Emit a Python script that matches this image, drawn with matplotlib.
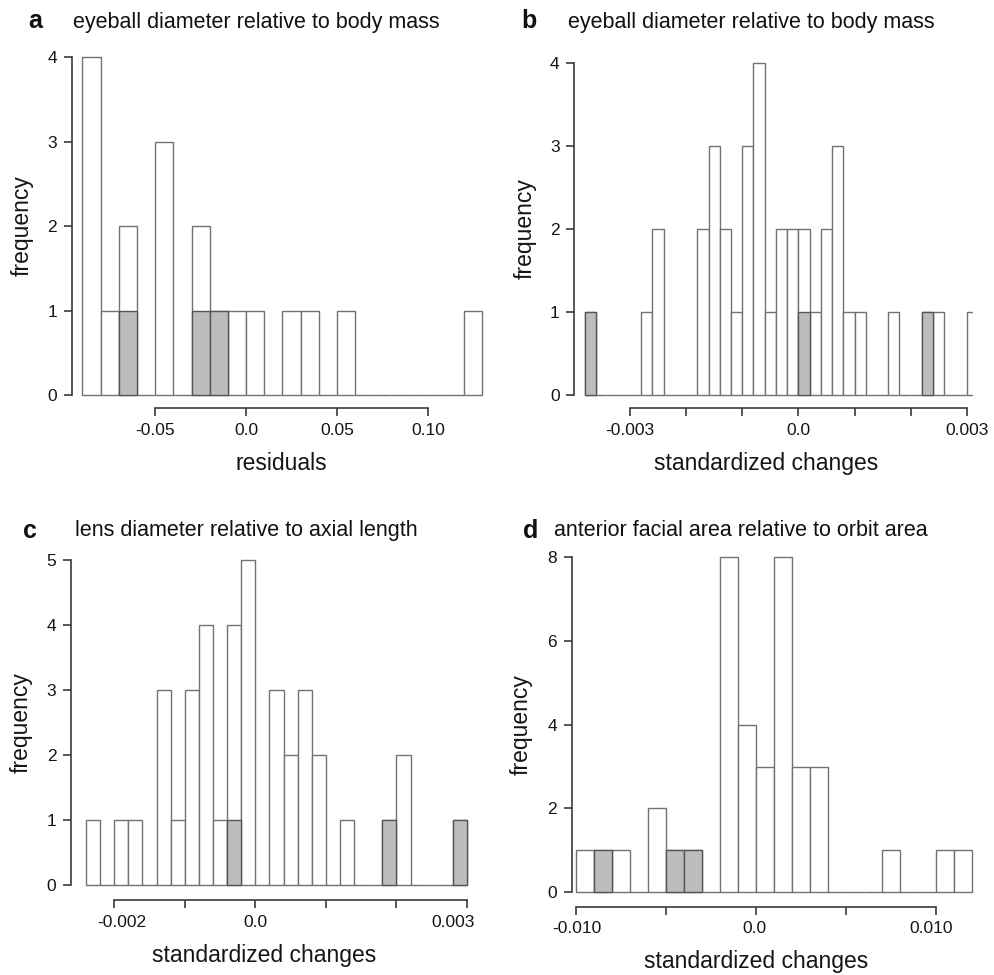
import numpy as np
import matplotlib
matplotlib.use("Agg")
import matplotlib.pyplot as plt
from matplotlib.transforms import ScaledTranslation

plt.rcParams['font.family'] = ['Liberation Sans', 'DejaVu Sans']

W, H = 995, 975

# ---------------- data (histogram counts) ----------------
# a: residuals, eyeball diameter vs body mass
a_start, a_width = -0.09, 0.01
a_counts = [4, 1, 2, 0, 3, 0, 2, 1, 1, 1, 0, 1, 1, 0, 1, 0, 0, 0, 0, 0, 0, 1]
a_gray = [0, 0, 1, 0, 0, 0, 1, 1, 0, 0, 0, 0, 0, 0, 0, 0, 0, 0, 0, 0, 0, 0]

# b: standardized changes, eyeball diameter vs body mass
b_start, b_width = -0.0038, 0.0002
b_counts = [1, 0, 0, 0, 0, 1, 2, 0, 0, 0, 2, 3, 2, 1, 3, 4, 1, 2, 2, 2,
            1, 2, 3, 1, 1, 0, 0, 1, 0, 0, 1, 1, 0, 0, 1]
b_gray = [1, 0, 0, 0, 0, 0, 0, 0, 0, 0, 0, 0, 0, 0, 0, 0, 0, 0, 0, 1,
          0, 0, 0, 0, 0, 0, 0, 0, 0, 0, 1, 0, 0, 0, 0]

# c: standardized changes, lens diameter vs axial length
c_start, c_width = -0.0024, 0.0002
c_counts = [1, 0, 1, 1, 0, 3, 1, 3, 4, 1, 4, 5, 0, 3, 2, 3, 2, 0, 1, 0,
            0, 1, 2, 0, 0, 0, 1]
c_gray = [0, 0, 0, 0, 0, 0, 0, 0, 0, 0, 1, 0, 0, 0, 0, 0, 0, 0, 0, 0,
          0, 1, 0, 0, 0, 0, 1]

# d: standardized changes, anterior facial area vs orbit area
d_start, d_width = -0.010, 0.001
d_counts = [1, 1, 1, 0, 2, 1, 1, 0, 8, 4, 3, 8, 3, 3, 0, 0, 0, 1, 0, 0, 1, 1]
d_gray = [0, 1, 0, 0, 0, 1, 1, 0, 0, 0, 0, 0, 0, 0, 0, 0, 0, 0, 0, 0, 0, 0]

a_xticks = [-0.05, 0.0, 0.05, 0.10]
a_xlabels = ["-0.05", "0.0", "0.05", "0.10"]
b_xticks = [-0.003, -0.002, -0.001, 0.0, 0.001, 0.002, 0.003]
b_xlabels = ["-0.003", "", "", "0.0", "", "", "0.003"]
c_xticks = [-0.002, -0.001, 0.0, 0.001, 0.002, 0.003]
c_xlabels = ["-0.002", "", "0.0", "", "", "0.003"]
d_xticks = [-0.010, -0.005, 0.0, 0.005, 0.010]
d_xlabels = ["-0.010", "", "0.0", "", "0.010"]

EDGE = "#727272"
SPINE = "#3a3a3a"
GRAY = "#bdbdbd"
TXT = "#151515"


def px_axes(fig, left, top, right, bottom):
    return fig.add_axes([left / W, 1 - bottom / H, (right - left) / W, (bottom - top) / H])


def draw_hist(ax, start, width, counts, gray):
    counts = np.array(counts)
    gray = np.array(gray)
    lefts = start + width * np.arange(len(counts))
    ax.bar(lefts, counts, width=width, align="edge", facecolor="white",
           edgecolor=EDGE, linewidth=1.0, zorder=2)
    m = gray > 0
    ax.bar(lefts[m], gray[m], width=width, align="edge", facecolor=GRAY,
           edgecolor="#555555", linewidth=1.0, zorder=3)


def style(ax, xlim, ylim, xticks, xlabels, yticks, shifts=None):
    ax.set_xlim(*xlim)
    ax.set_ylim(*ylim)
    for s in ["top", "right"]:
        ax.spines[s].set_visible(False)
    for s in ["left", "bottom"]:
        ax.spines[s].set_color(SPINE)
        ax.spines[s].set_linewidth(1.2)
    ax.spines["left"].set_bounds(yticks[0], yticks[-1])
    ax.spines["bottom"].set_bounds(xticks[0], xticks[-1])
    ax.set_xticks(xticks)
    ax.set_xticklabels(xlabels)
    ax.set_yticks(yticks)
    ax.set_yticklabels([str(t) for t in yticks])
    ax.tick_params(direction="out", length=6, width=1.2, color=SPINE,
                   labelsize=12.5, labelcolor=TXT)
    ax.tick_params(axis="x", pad=4.5)
    ax.tick_params(axis="y", pad=4.5)
    ax.patch.set_alpha(0)
    # the original figure has a few tick labels nudged sideways
    if shifts:
        fig = ax.figure
        for lab, dx in zip(ax.get_xticklabels(), shifts):
            lab.set_transform(lab.get_transform() +
                              ScaledTranslation(dx / 100, 0, fig.dpi_scale_trans))


def fig_xy(x, y):
    return x / W, 1 - y / H


fig = plt.figure(figsize=(W / 100, H / 100), dpi=100)

# panel a
ax = px_axes(fig, 71.7, 44, 492, 408.3)
draw_hist(ax, a_start, a_width, a_counts, a_gray)
style(ax, (-0.0959, 0.1353), (-0.158, 4.16), a_xticks, a_xlabels, [0, 1, 2, 3, 4])
ax.set_xlabel("residuals", fontsize=16.5, color=TXT)
ax.xaxis.set_label_coords(*fig_xy(281, 452), transform=fig.transFigure)
ax.set_ylabel("frequency", fontsize=16.5, color=TXT)
ax.yaxis.set_label_coords(*fig_xy(34, 226), transform=fig.transFigure)

# panel b
ax = px_axes(fig, 574.3, 50, 973, 408.3)
draw_hist(ax, b_start, b_width, b_counts, b_gray)
style(ax, (-0.003991, 0.003109), (-0.16, 4.16), b_xticks, b_xlabels, [0, 1, 2, 3, 4])
ax.set_xlabel("standardized changes", fontsize=16.5, color=TXT)
ax.xaxis.set_label_coords(*fig_xy(766, 452), transform=fig.transFigure)
ax.set_ylabel("frequency", fontsize=16.5, color=TXT)
ax.yaxis.set_label_coords(*fig_xy(537, 229), transform=fig.transFigure)

# panel c
ax = px_axes(fig, 71, 547, 482, 900)
draw_hist(ax, c_start, c_width, c_counts, c_gray)
style(ax, (-0.002612, 0.003213), (-0.23, 5.2), c_xticks, c_xlabels, [0, 1, 2, 3, 4, 5],
      shifts=[8, 0, 0, 0, 0, -14])
ax.set_xlabel("standardized changes", fontsize=16.5, color=TXT)
ax.xaxis.set_label_coords(*fig_xy(264, 944), transform=fig.transFigure)
ax.set_ylabel("frequency", fontsize=16.5, color=TXT)
ax.yaxis.set_label_coords(*fig_xy(33, 723), transform=fig.transFigure)

# panel d
ax = px_axes(fig, 571.7, 543.7, 974.2, 906.7)
draw_hist(ax, d_start, d_width, d_counts, d_gray)
style(ax, (-0.01022, 0.0121), (-0.344, 8.32), d_xticks, d_xlabels, [0, 2, 4, 6, 8],
      shifts=[1, 0, -2, 0, -5])
ax.set_xlabel("standardized changes", fontsize=16.5, color=TXT)
ax.xaxis.set_label_coords(*fig_xy(756, 950), transform=fig.transFigure)
ax.set_ylabel("frequency", fontsize=16.5, color=TXT)
ax.yaxis.set_label_coords(*fig_xy(533, 725), transform=fig.transFigure)

# panel letters and titles
panels = [
    ("a", 28, 28, "eyeball diameter relative to body mass", 72.7, 28),
    ("b", 521.7, 28, "eyeball diameter relative to body mass", 568.3, 28),
    ("c", 23, 538, "lens diameter relative to axial length", 75, 536),
    ("d", 523, 538, "anterior facial area relative to orbit area", 554, 536),
]
for letter, lx, ly, title, tx, ty in panels:
    fig.text(*fig_xy(lx, ly), letter, fontsize=18, fontweight="bold",
             ha="left", va="baseline", color="#111111")
    fig.text(*fig_xy(tx, ty), title, fontsize=15.5, ha="left",
             va="baseline", color="#111111")

fig.savefig("out.png", dpi=100)
